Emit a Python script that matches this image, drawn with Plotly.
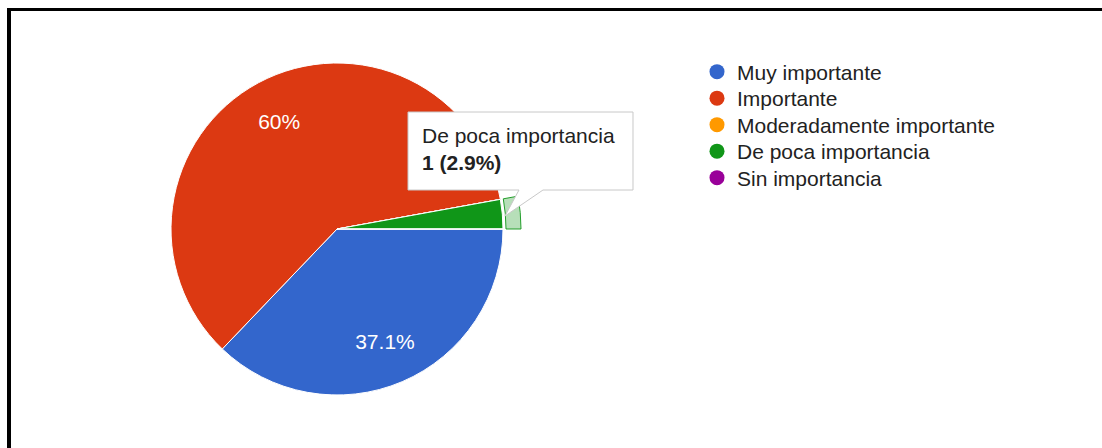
import plotly.graph_objects as go

# Survey answers (counts per category)
categories = ["Muy importante", "Importante", "Moderadamente importante",
              "De poca importancia", "Sin importancia"]
counts = [13, 21, 0, 1, 0]
colors = ["#3366cc", "#dc3912", "#ff9900", "#109618", "#990099"]
highlight = "De poca importancia"

W, H = 1102, 448
total = sum(counts)


def pct_text(v):
    p = round(100.0 * v / total, 1)
    s = f"{p:.1f}".rstrip("0").rstrip(".")
    return s + "%"


slice_text = [pct_text(v) if v / total >= 0.05 else "" for v in counts]


def px(x):
    return x / W


def py(y):
    return 1 - y / H


def square_domain(cx, cy, r):
    return dict(x=[px(cx - r), px(cx + r)], y=[py(cy + r), py(cy - r)])


CX, CY, R = 337, 229, 166
FONT = "Liberation Sans, Arial, sans-serif"
pie_common = dict(labels=categories, values=counts, sort=False,
                  direction="clockwise", rotation=90)

fig = go.Figure()

# hover ring behind the highlighted slice
hi = categories.index(highlight)
ring_colors = ["rgba(0,0,0,0)"] * len(categories)
ring_colors[hi] = "rgba(16,150,24,0.30)"
ring_lines = ["rgba(0,0,0,0)"] * len(categories)
ring_lines[hi] = "rgba(16,150,24,0.9)"
R_OUT = 184
fig.add_trace(go.Pie(
    **pie_common, hole=(R + 3) / R_OUT, domain=square_domain(CX, CY, R_OUT),
    marker=dict(colors=ring_colors, line=dict(color=ring_lines, width=1)),
    textinfo="none", showlegend=False, hoverinfo="skip",
))

# the pie itself
fig.add_trace(go.Pie(
    **pie_common, domain=square_domain(CX, CY, R),
    marker=dict(colors=colors, line=dict(color="white", width=1)),
    textinfo="none", showlegend=False,
))

# transparent donut carrying the percentage labels at a fixed radius
R_LAB_IN = 78
fig.add_trace(go.Pie(
    **pie_common, hole=R_LAB_IN / R, domain=square_domain(CX, CY, R),
    marker=dict(colors=["rgba(0,0,0,0)"] * len(categories),
                line=dict(width=0)),
    text=slice_text, textinfo="text", textposition="inside",
    insidetextorientation="horizontal",
    textfont=dict(family=FONT, size=21, color="white"),
    showlegend=False, hoverinfo="skip",
))

# legend entries with round markers, one legend box per row
row_y = [72, 98.5, 125, 151.5, 178]
legends = {}
for i, (name, col) in enumerate(zip(categories, colors)):
    key = "legend" if i == 0 else f"legend{i + 1}"
    fig.add_trace(go.Scatter(
        x=[None], y=[None], mode="markers", name=name, legend=key,
        marker=dict(symbol="circle", size=15, color=col),
    ))
    legends[key] = dict(
        x=px(697), y=py(row_y[i]), xanchor="left", yanchor="middle",
        font=dict(family=FONT, size=21, color="#222222"),
        bgcolor="rgba(0,0,0,0)", itemclick=False, itemdoubleclick=False,
    )

# tooltip box with tail
bx0, by0, bx1, by1 = 408, 112, 633, 190
tail = [(543, by1), (505, 216), (519, by1)]
pts = [(bx0, by0), (bx1, by0), (bx1, by1)] + tail + [(bx0, by1)]
path = "M " + " L ".join(f"{px(x):.5f},{py(y):.5f}" for x, y in pts) + " Z"

shapes = [
    dict(type="path", xref="paper", yref="paper", path=path,
         fillcolor="white", line=dict(color="#c8c8c8", width=1), layer="above"),
    # frame lines
    dict(type="rect", xref="paper", yref="paper", x0=px(7), x1=px(11),
         y0=0, y1=py(8), fillcolor="black", line=dict(width=0), layer="above"),
    dict(type="rect", xref="paper", yref="paper", x0=px(7), x1=1,
         y0=py(11), y1=py(8), fillcolor="black", line=dict(width=0), layer="above"),
]

tip_text = f"{highlight}<br><b>{counts[hi]} ({pct_text(counts[hi])})</b>"

fig.update_layout(
    width=W, height=H,
    margin=dict(l=0, r=0, t=0, b=0),
    paper_bgcolor="white", plot_bgcolor="white",
    xaxis=dict(visible=False), yaxis=dict(visible=False),
    shapes=shapes,
    annotations=[dict(
        xref="paper", yref="paper", x=px(bx0 + 12), y=py(by0 + 10),
        xanchor="left", yanchor="top", align="left", showarrow=False,
        text=tip_text, font=dict(family=FONT, size=21, color="#222222"),
    )],
    **legends,
)

fig.write_html("out.html")
